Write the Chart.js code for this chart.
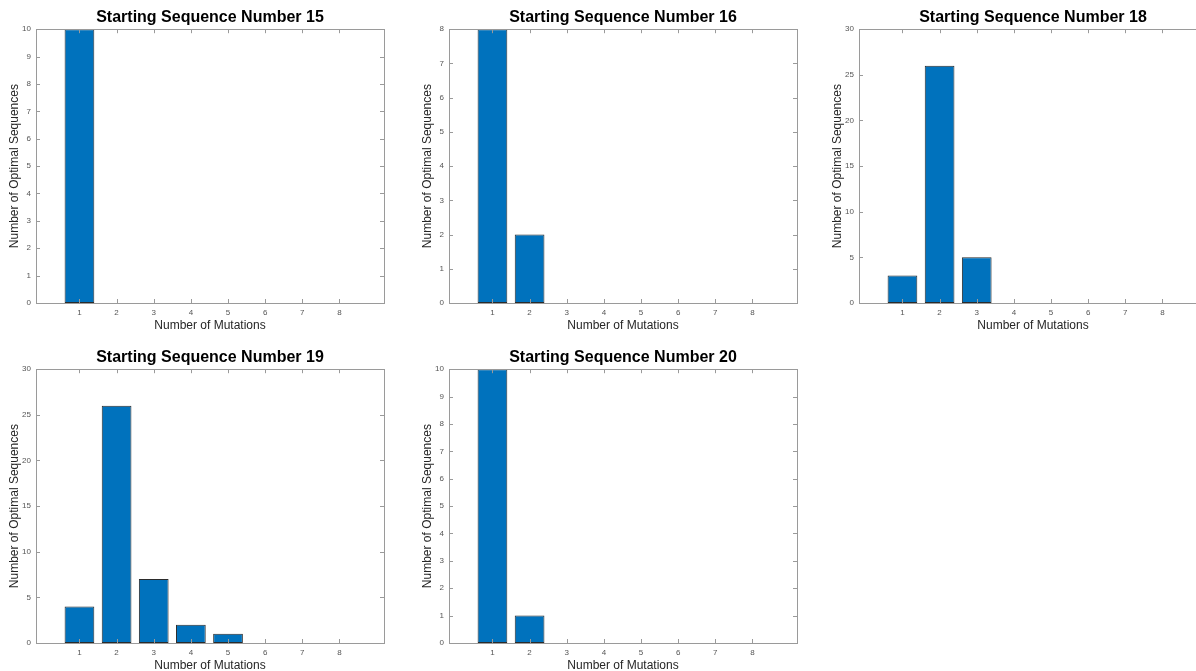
<!DOCTYPE html>
<html>
<head>
<meta charset="utf-8">
<title>Optimal sequences by number of mutations</title>
<script src="https://cdn.jsdelivr.net/npm/chart.js@4.4.1/dist/chart.umd.min.js"></script>
<style>
  html, body { margin: 0; padding: 0; background: #ffffff; }
  body { width: 1196px; height: 671px; overflow: hidden; position: relative; }
  .panel { position: absolute; width: 400px; height: 333px; }
</style>
</head>
<body>
<div class="panel" style="left:0px;top:0px;"><canvas id="seq15" width="400" height="333"></canvas></div>
<div class="panel" style="left:413px;top:0px;"><canvas id="seq16" width="400" height="333"></canvas></div>
<div class="panel" style="left:823px;top:0px;"><canvas id="seq18" width="400" height="333"></canvas></div>
<div class="panel" style="left:0px;top:340px;"><canvas id="seq19" width="400" height="333"></canvas></div>
<div class="panel" style="left:413px;top:340px;"><canvas id="seq20" width="400" height="333"></canvas></div>

<script>
// x categories: number of mutations
const mutations = [1, 2, 3, 4, 5, 6, 7, 8];

// optimal sequences found per mutation count
const seq15 = [10, 0, 0, 0, 0, 0, 0, 0];
const seq16 = [8, 2, 0, 0, 0, 0, 0, 0];
const seq18 = [3, 26, 5, 0, 0, 0, 0, 0];
const seq19 = [4, 26, 7, 2, 1, 0, 0, 0];
const seq20 = [10, 1, 0, 0, 0, 0, 0, 0];

const startNumbers = [15, 16, 18, 19, 20];
const yMaxes = [10, 8, 30, 30, 10];
const ySteps = [1, 1, 5, 5, 1];

const FONT = '"Liberation Sans", Helvetica, Arial, sans-serif';
const AXIS_GRAY = '#9a9a9a';

// box around the axes + inward ticks on all four sides
const boxTicks = {
    id: 'boxTicks',
    afterDraw(chart) {
        const { ctx, chartArea: a, scales } = chart;
        const len = 4;
        ctx.save();
        ctx.strokeStyle = AXIS_GRAY;
        ctx.lineWidth = 1;
        ctx.strokeRect(Math.round(a.left) + 0.5, Math.round(a.top) + 0.5,
            Math.round(a.right - a.left), Math.round(a.bottom - a.top));
        ctx.beginPath();
        scales.x.ticks.forEach(t => {
            const px = Math.round(scales.x.getPixelForValue(t.value)) + 0.5;
            ctx.moveTo(px, a.bottom); ctx.lineTo(px, a.bottom - len);
            ctx.moveTo(px, a.top); ctx.lineTo(px, a.top + len);
        });
        scales.y.ticks.forEach(t => {
            const py = Math.round(scales.y.getPixelForValue(t.value)) + 0.5;
            ctx.moveTo(a.left, py); ctx.lineTo(a.left + len, py);
            ctx.moveTo(a.right, py); ctx.lineTo(a.right - len, py);
        });
        ctx.stroke();
        ctx.restore();
    }
};

function renderPanel(canvasId, num, counts, yMax, yStep) {
    const canvas = document.getElementById(canvasId);
    new Chart(canvas.getContext('2d'), {
        type: 'bar',
        data: {
            datasets: [{
                data: mutations.map((m, i) => ({ x: m, y: counts[i] })),
                backgroundColor: '#0072BD',
                borderColor: '#2b2b2b',
                borderWidth: c => (c.raw && c.raw.y === 0 ? 0 : 1),
                borderSkipped: false,
                categoryPercentage: 1,
                barPercentage: 0.8
            }]
        },
        options: {
            responsive: false,
            animation: false,
            events: [],
            layout: { padding: { left: 0, right: 16, top: 0, bottom: 0 } },
            plugins: {
                legend: { display: false },
                tooltip: { enabled: false },
                title: {
                    display: true,
                    text: 'Starting Sequence Number ' + num,
                    fullSize: false,
                    color: '#000000',
                    font: { family: FONT, size: 16, weight: 'bold' },
                    padding: { top: 8, bottom: 2 }
                }
            },
            scales: {
                x: {
                    type: 'linear',
                    min: -0.17,
                    max: 9.2,
                    offset: false,
                    grid: { display: false, drawTicks: false },
                    border: { display: false },
                    afterBuildTicks: s => { s.ticks = mutations.map(v => ({ value: v })); },
                    afterFit: s => { s.height = 30; },
                    ticks: {
                        color: '#555555',
                        font: { family: FONT, size: 8 },
                        padding: 5,
                        maxRotation: 0
                    },
                    title: {
                        display: true,
                        text: 'Number of Mutations',
                        color: '#262626',
                        font: { family: FONT, size: 12 },
                        padding: { top: 0, bottom: 0 }
                    }
                },
                y: {
                    min: 0,
                    max: yMax,
                    grid: { display: false, drawTicks: false },
                    border: { display: false },
                    afterFit: s => { s.width = 36; },
                    ticks: {
                        stepSize: yStep,
                        color: '#555555',
                        font: { family: FONT, size: 8 },
                        padding: 5
                    },
                    title: {
                        display: true,
                        text: 'Number of Optimal Sequences',
                        color: '#262626',
                        font: { family: FONT, size: 12 },
                        padding: { top: 7, bottom: 0 }
                    }
                }
            }
        },
        plugins: [boxTicks]
    });
}

const allCounts = [seq15, seq16, seq18, seq19, seq20];
startNumbers.forEach((n, i) => {
    renderPanel('seq' + n, n, allCounts[i], yMaxes[i], ySteps[i]);
});
</script>
</body>
</html>
